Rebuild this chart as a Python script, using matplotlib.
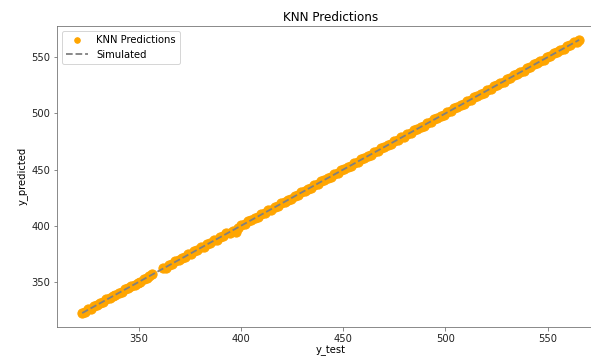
import numpy as np
import matplotlib
matplotlib.use('Agg')
import matplotlib.pyplot as plt

matplotlib.rcParams.update({
    'font.family': 'DejaVu Sans',
    'font.size': 10,
})

# values (gap between ~357 and ~362)
y_test = [322.3, 323.5, 325.1, 326.4, 328.0, 329.6, 330.9, 332.6, 334.0, 335.7,
          337.2, 338.5, 340.1, 341.8, 343.2, 344.6, 346.3, 347.9, 349.4, 350.8,
          352.5, 353.9, 355.2, 356.6,
          361.8, 363.2, 364.9, 366.3, 367.8, 369.5, 371.0, 372.4, 374.1, 375.6,
          377.2, 378.7, 380.3, 381.9, 383.4, 385.0, 386.6, 388.1, 389.7, 391.2,
          392.8, 394.4, 395.9, 397.3, 398.6, 400.2, 401.8, 403.5, 405.1, 406.7,
          408.3, 409.9, 411.6, 413.2, 414.8, 416.4, 418.1, 419.7, 421.3, 422.9,
          424.6, 426.2, 427.8, 429.4, 431.1, 432.7, 434.3, 435.9, 437.6, 439.2,
          440.8, 442.4, 444.1, 445.7, 447.3, 448.9, 450.6, 452.2, 453.8, 455.4,
          457.1, 458.7, 460.3, 461.9, 463.6, 465.2, 466.8, 468.4, 470.1, 471.7,
          473.3, 474.9, 476.6, 478.2, 479.8, 481.4, 483.1, 484.7, 486.3, 487.9,
          489.6, 491.2, 492.8, 494.4, 496.1, 497.7, 499.3, 500.9, 502.6, 504.2,
          505.8, 507.4, 509.1, 510.7, 512.3, 513.9, 515.6, 517.2, 518.8, 520.4,
          522.1, 523.7, 525.3, 526.9, 528.6, 530.2, 531.8, 533.4, 535.1, 536.7,
          538.3, 539.9, 541.6, 543.2, 544.8, 546.4, 548.1, 549.7, 551.3, 552.9,
          554.6, 556.2, 557.8, 559.4, 561.1, 562.7, 564.2, 565.4]
y_pred = [322.6, 323.2, 325.5, 326.1, 328.4, 329.3, 331.3, 332.2, 334.4, 335.3,
          337.6, 338.1, 340.5, 341.4, 343.6, 344.2, 346.7, 347.5, 348.9, 350.3,
          352.9, 353.5, 355.6, 356.9,
          362.2, 362.8, 365.3, 365.9, 368.2, 369.1, 371.4, 372.0, 374.5, 375.2,
          377.6, 378.3, 380.7, 381.5, 383.8, 384.6, 387.0, 387.7, 390.1, 390.8,
          393.2, 393.9, 395.3, 394.8, 398.1, 400.6, 401.4, 403.9, 404.7, 407.1,
          407.9, 410.3, 411.2, 413.6, 414.4, 416.8, 417.7, 420.1, 420.9, 423.3,
          424.2, 426.6, 427.4, 429.8, 430.7, 433.1, 433.9, 436.3, 437.2, 439.6,
          440.4, 442.8, 443.7, 446.1, 446.9, 449.3, 450.2, 452.6, 453.4, 455.8,
          456.7, 459.1, 459.9, 462.3, 463.2, 465.6, 466.4, 468.8, 469.7, 472.1,
          472.9, 475.3, 476.2, 478.6, 479.4, 481.8, 482.7, 485.1, 485.9, 488.3,
          489.2, 491.6, 492.4, 494.8, 495.7, 498.1, 498.9, 501.3, 502.2, 504.6,
          505.4, 507.8, 508.7, 511.1, 511.9, 514.3, 515.2, 517.6, 518.4, 520.8,
          521.7, 524.1, 524.9, 527.3, 528.2, 530.6, 531.4, 533.8, 534.7, 537.1,
          537.9, 540.3, 541.2, 543.6, 544.4, 546.8, 547.7, 550.1, 550.9, 553.3,
          554.2, 556.6, 557.4, 559.8, 560.7, 563.1, 563.8, 565.6]

fig = plt.figure(figsize=(591 / 72, 358 / 72), dpi=72)
ax = fig.add_axes([0.097, 0.0874, 0.925, 0.840])

ax.scatter(y_test, y_pred, color='orange', s=85, label='KNN Predictions')
ax.plot(sorted(y_test), sorted(y_test), '--', color='gray', lw=1.8, label='Simulated')

ax.set_title('KNN Predictions', fontsize=12, pad=5)
ax.set_xlabel('y_test', labelpad=2)
ax.set_ylabel('y_predicted')
ax.set_xticks([350, 400, 450, 500, 550])
ax.set_yticks([350, 400, 450, 500, 550])
for s in ax.spines.values():
    s.set_color('#707070')
ax.spines['right'].set_visible(False)  # cropped off in the reference
ax.tick_params(colors='#707070', labelcolor='#222222')
ax.legend(loc='upper left', markerscale=0.6, handlelength=2.2)

fig.savefig('out.png', dpi=72)
